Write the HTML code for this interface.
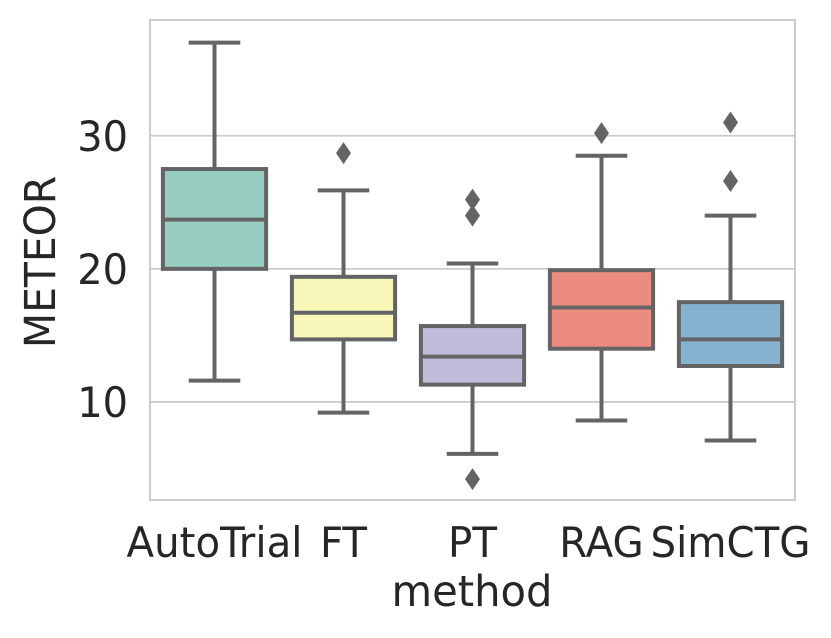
<!DOCTYPE html>
<html><head><meta charset="utf-8"><style>
html,body{margin:0;padding:0;background:#fff;}
svg{display:block;font-family:"DejaVu Sans","Liberation Sans",sans-serif;}
</style></head><body>
<svg id="chart" width="831" height="638" viewBox="0 0 831 638">
<rect x="150" y="20" width="645" height="480" fill="#fff" stroke="#cccccc" stroke-width="2"/>
<g id="grid"></g>
<g id="boxes"></g>
<g id="ticks"></g>
<text x="0" y="0" font-size="43" fill="#262626" text-anchor="middle" transform="translate(55 262) rotate(-90) scale(0.95 1)">METEOR</text>
<text x="0" y="0" font-size="43" fill="#262626" text-anchor="middle" transform="translate(472 606) scale(0.97 1)">method</text>
</svg>
<script>
const categories=["AutoTrial","FT","PT","RAG","SimCTG"];
const whiskerLow=[11.6,9.2,6.1,8.6,7.1];
const q1=[20.0,14.7,11.3,14.0,12.7];
const medians=[23.7,16.7,13.4,17.1,14.7];
const q3=[27.5,19.4,15.7,19.9,17.5];
const whiskerHigh=[37.0,25.9,20.4,28.5,24.0];
const outliers=[[],[28.7],[25.2,24.0,4.2],[30.2],[31.0,26.6]];
const colors=["#98cdc2","#f8f6b8","#c0bcd9","#ec8b7f","#87b2cf"];
const yTicks=[10,20,30];
const NS="http://www.w3.org/2000/svg";
const L=150,R=795,T=20,B=500;
const yMin=2.63,yMax=38.7;
function y(v){return B-(v-yMin)/(yMax-yMin)*(B-T);}
const band=(R-L)/categories.length;
function xc(i){return L+band*(i+0.5);}
function mk(tag,attrs,parent){const e=document.createElementNS(NS,tag);for(const k in attrs)e.setAttribute(k,attrs[k]);parent.appendChild(e);return e;}
const grid=document.getElementById('grid'),ticks=document.getElementById('ticks'),boxes=document.getElementById('boxes');
yTicks.forEach(t=>{
 const g=mk('line',{x1:L,x2:R,y1:y(t),y2:y(t),stroke:'#cccccc','stroke-width':1.8},grid);
 
 
 const tx=mk('text',{x:0,y:0,'font-size':42,fill:'#262626','text-anchor':'end',transform:`translate(${L-22} ${y(t)+15}) scale(0.95 1)`},ticks);
 tx.textContent=t;
 
 
});
const line='#646464',lw=4,bw=band*0.8;
categories.forEach((c,i)=>{
 const cx=xc(i);
 const g=mk('g',{},boxes);
 
 
 mk('line',{x1:cx,x2:cx,y1:y(whiskerHigh[i]),y2:y(q3[i]),stroke:line,'stroke-width':lw},g);
 mk('line',{x1:cx,x2:cx,y1:y(q1[i]),y2:y(whiskerLow[i]),stroke:line,'stroke-width':lw},g);
 mk('line',{x1:cx-bw/4,x2:cx+bw/4,y1:y(whiskerHigh[i]),y2:y(whiskerHigh[i]),stroke:line,'stroke-width':lw},g);
 mk('line',{x1:cx-bw/4,x2:cx+bw/4,y1:y(whiskerLow[i]),y2:y(whiskerLow[i]),stroke:line,'stroke-width':lw},g);
 mk('rect',{x:cx-bw/2,y:y(q3[i]),width:bw,height:y(q1[i])-y(q3[i]),fill:colors[i],stroke:line,'stroke-width':lw},g);
 mk('line',{x1:cx-bw/2,x2:cx+bw/2,y1:y(medians[i]),y2:y(medians[i]),stroke:line,'stroke-width':lw},g);
 outliers[i].forEach(o=>{
  const oy=y(o);
  const d=mk('polygon',{points:`${cx},${oy-11} ${cx+7.5},${oy} ${cx},${oy+11} ${cx-7.5},${oy}`,fill:line},g);
  
  
 });
 const tx=mk('text',{x:0,y:0,'font-size':42,fill:'#262626','text-anchor':'middle',transform:`translate(${cx} 557) scale(0.96 1)`},ticks);
 tx.textContent=c;
 
 
});
</script>
</body></html>
